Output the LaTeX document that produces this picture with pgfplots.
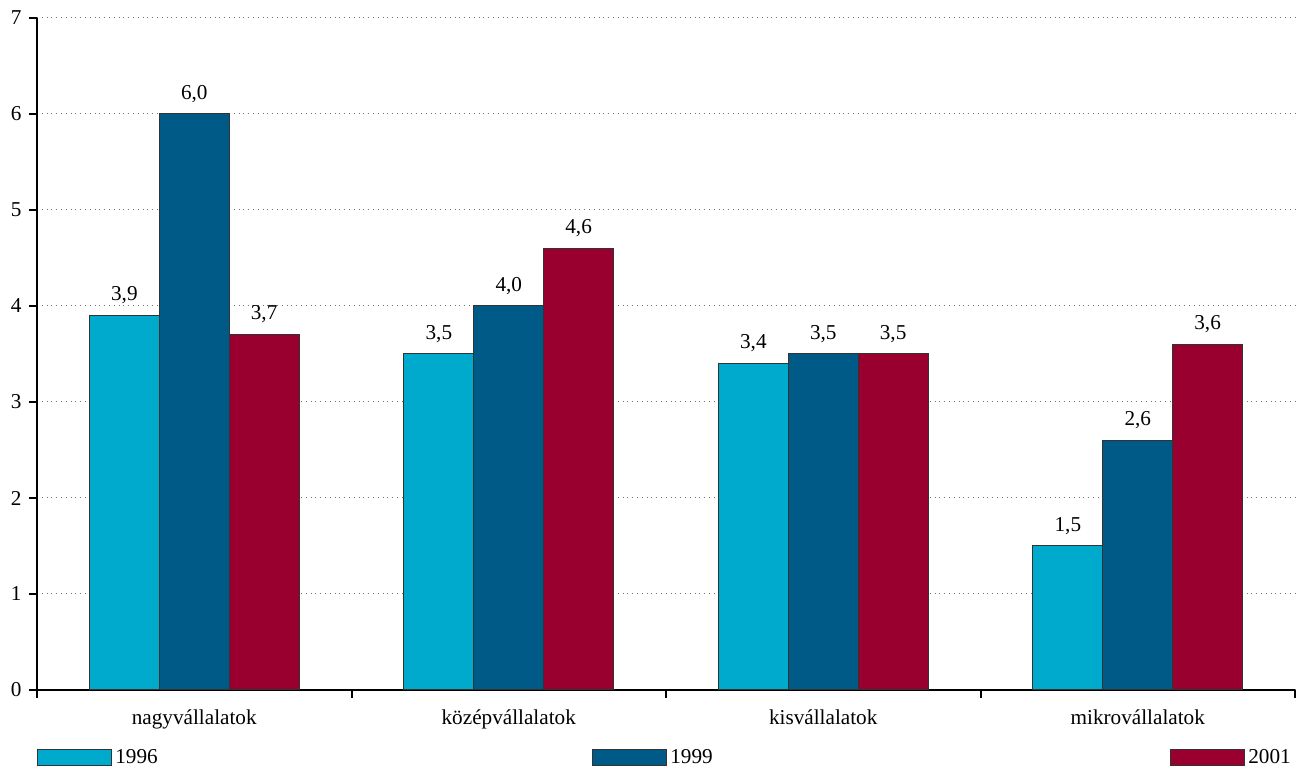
\documentclass[border=0pt]{standalone}
\usepackage{pgfplots}
\pgfplotsset{compat=1.18}
\usepackage{fontspec}
\setmainfont{Liberation Serif}
\definecolor{cA}{RGB}{0,170,204}
\definecolor{cB}{RGB}{0,90,135}
\definecolor{cC}{RGB}{153,0,48}
\begin{document}
\fontsize{10.6}{12}\selectfont
\begin{tikzpicture}
\useasboundingbox (-18.5pt,-40.5pt) rectangle (632pt,345pt);
\begin{axis}[
  at={(0,0)}, anchor=south west,
  scale only axis, width=629pt, height=336pt,
  xmin=0, xmax=4, ymin=0, ymax=7,
  axis x line*=bottom, axis y line*=left,
  axis line style={line width=1pt, black, -},
  xtick={0,1,2,3,4}, xticklabels={},
  extra x ticks={0.5,1.5,2.5,3.5},
  extra x tick labels={nagyvállalatok,középvállalatok,kisvállalatok,mikrovállalatok},
  extra x tick style={major tick length=0pt, grid=none, xticklabel style={yshift=-6pt}},
  ytick={0,...,7},
  tick align=outside, major tick length=4pt,
  tick style={line width=1pt, black},
  ymajorgrids, grid style={dotted, black!55, line width=0.5pt},
  /pgf/number format/assume math mode=true,
  ybar, bar width=0.2222,
  nodes near coords,
  every node near coord/.append style={font=\fontsize{10.6}{12}\selectfont, yshift=2pt},
  nodes near coords style={/pgf/number format/.cd, fixed, fixed zerofill, precision=1, use comma, assume math mode=true},
  legend columns=3,
  legend style={draw=none, at={(0,0)}, anchor=west, yshift=-34pt, inner sep=0pt,
    nodes={inner sep=1.5pt}, column sep=0pt},
  legend cell align=left,
  legend image code/.code={\draw[#1] (0pt,-4pt) rectangle (37pt,4pt);},
]
\addplot[fill=cA, draw=black!80, line width=0.5pt, bar shift=-0.2222]
  coordinates {(0.5,3.9) (1.5,3.5) (2.5,3.4) (3.5,1.5)};
\addlegendentry{\makebox[237pt][l]{1996}}
\addplot[fill=cB, draw=black!80, line width=0.5pt, bar shift=0]
  coordinates {(0.5,6.0) (1.5,4.0) (2.5,3.5) (3.5,2.6)};
\addlegendentry{\makebox[248.5pt][l]{1999}}
\addplot[fill=cC, draw=black!80, line width=0.5pt, bar shift=0.2222]
  coordinates {(0.5,3.7) (1.5,4.6) (2.5,3.5) (3.5,3.6)};
\addlegendentry{2001}
\end{axis}
\end{tikzpicture}
\end{document}
